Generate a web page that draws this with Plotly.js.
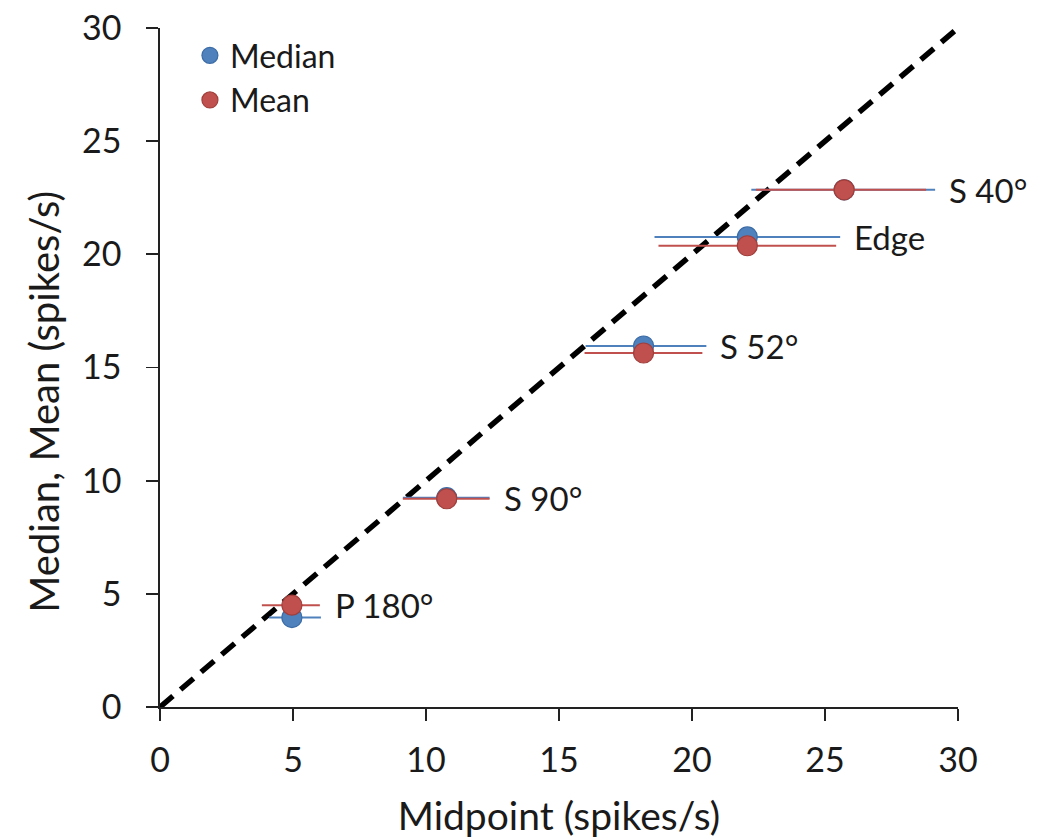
<!DOCTYPE html>
<html>
<head>
<meta charset="utf-8">
<script src="https://cdn.plot.ly/plotly-3.0.1.min.js"></script>
<style>html,body{margin:0;padding:0;background:#fff;}#chart{width:1041px;height:839px;}</style>
</head>
<body>
<div id="chart"></div>
<script>
var labels = ["P 180°", "S 90°", "S 52°", "Edge", "S 40°"];
var midpoint = [4.96, 10.78, 18.18, 22.08, 25.72];
var median = [3.95, 9.25, 15.95, 20.77, 22.85];
var mean = [4.5, 9.2, 15.64, 20.38, 22.85];
var medianLow = [4.1, 9.13, 16.0, 18.59, 22.23];
var medianHigh = [6.05, 12.39, 20.54, 25.57, 29.14];
var meanLow = [3.83, 9.13, 15.96, 18.74, 22.4];
var meanHigh = [6.01, 12.39, 20.39, 25.42, 28.8];
var identityLine = [0, 30];
var xTicks = [0, 5, 10, 15, 20, 25, 30];
var yTicks = [0, 5, 10, 15, 20, 25, 30];
var xTitle = "Midpoint (spikes/s)";
var yTitle = "Median, Mean (spikes/s)";

var FONT = "Lato, 'Open Sans', sans-serif";
var BLUE = "#4f81bd", RED = "#c0504d";
var TXT = "#1a1a1a";

function plus(hi, c) { return hi.map(function (v, i) { return v - c[i]; }); }
function minus(lo, c) { return lo.map(function (v, i) { return c[i] - v; }); }

var traces = [
  {
    x: identityLine, y: identityLine, mode: "lines", type: "scatter",
    line: {color: "#000", width: 5.5, dash: "17px,10px"}, showlegend: false, hoverinfo: "skip"
  },
  {
    x: midpoint, y: median, mode: "markers", type: "scatter", name: "Median",
    marker: {size: 20, color: BLUE, line: {color: "#3b6ca6", width: 1.2}},
    error_x: {type: "data", symmetric: false, array: plus(medianHigh, midpoint),
      arrayminus: minus(medianLow, midpoint), color: BLUE, thickness: 2, width: 0}
  },
  {
    x: midpoint, y: mean, mode: "markers", type: "scatter", name: "Mean",
    marker: {size: 20, color: RED, line: {color: "#a03e3b", width: 1.2}},
    error_x: {type: "data", symmetric: false, array: plus(meanHigh, midpoint),
      arrayminus: minus(meanLow, midpoint), color: RED, thickness: 2, width: 0}
  }
];

var annotations = labels.map(function (t, i) {
  return {
    x: Math.max(medianHigh[i], meanHigh[i]), y: Math.max(median[i], mean[i]), xref: "x", yref: "y",
    text: t, showarrow: false, xanchor: "left", yanchor: "middle", xshift: 12,
    font: {family: FONT, size: 33, color: TXT}
  };
});
annotations.push({
  x: -0.145, y: 0.45, xref: "paper", yref: "paper", text: yTitle, textangle: -90,
  showarrow: false, xanchor: "center", yanchor: "middle",
  font: {family: FONT, size: 40, color: TXT}
});

var layout = {
  width: 1041, height: 839,
  margin: {l: 160, r: 83, t: 28, b: 132},
  paper_bgcolor: "#fff", plot_bgcolor: "#fff",
  font: {family: FONT, color: TXT},
  xaxis: {
    range: [0, 30], tickvals: xTicks, ticktext: xTicks.map(String),
    showgrid: false, zeroline: false, showline: true, linecolor: "#222", linewidth: 1.8,
    ticks: "outside", ticklen: 12, tickwidth: 1.8, tickcolor: "#222",
    ticklabelstandoff: 10,
    tickfont: {family: FONT, size: 34, color: TXT},
    title: {text: xTitle, font: {family: FONT, size: 39, color: TXT}, standoff: 25},
    automargin: false
  },
  yaxis: {
    range: [0, 30], tickvals: yTicks, ticktext: yTicks.map(String),
    showgrid: false, zeroline: false, showline: true, linecolor: "#222", linewidth: 1.8,
    ticks: "outside", ticklen: 12, tickwidth: 1.8, tickcolor: "#222",
    ticklabelstandoff: 18,
    tickfont: {family: FONT, size: 34, color: TXT},
    automargin: false
  },
  showlegend: true,
  legend: {
    x: 0.0375, y: 1.0, xanchor: "left", yanchor: "top", bgcolor: "rgba(0,0,0,0)",
    font: {family: FONT, size: 32, color: TXT}, itemwidth: 30, tracegroupgap: 0
  },
  annotations: annotations
};

Plotly.newPlot("chart", traces, layout, {displayModeBar: false, staticPlot: true});
</script>
</body>
</html>
